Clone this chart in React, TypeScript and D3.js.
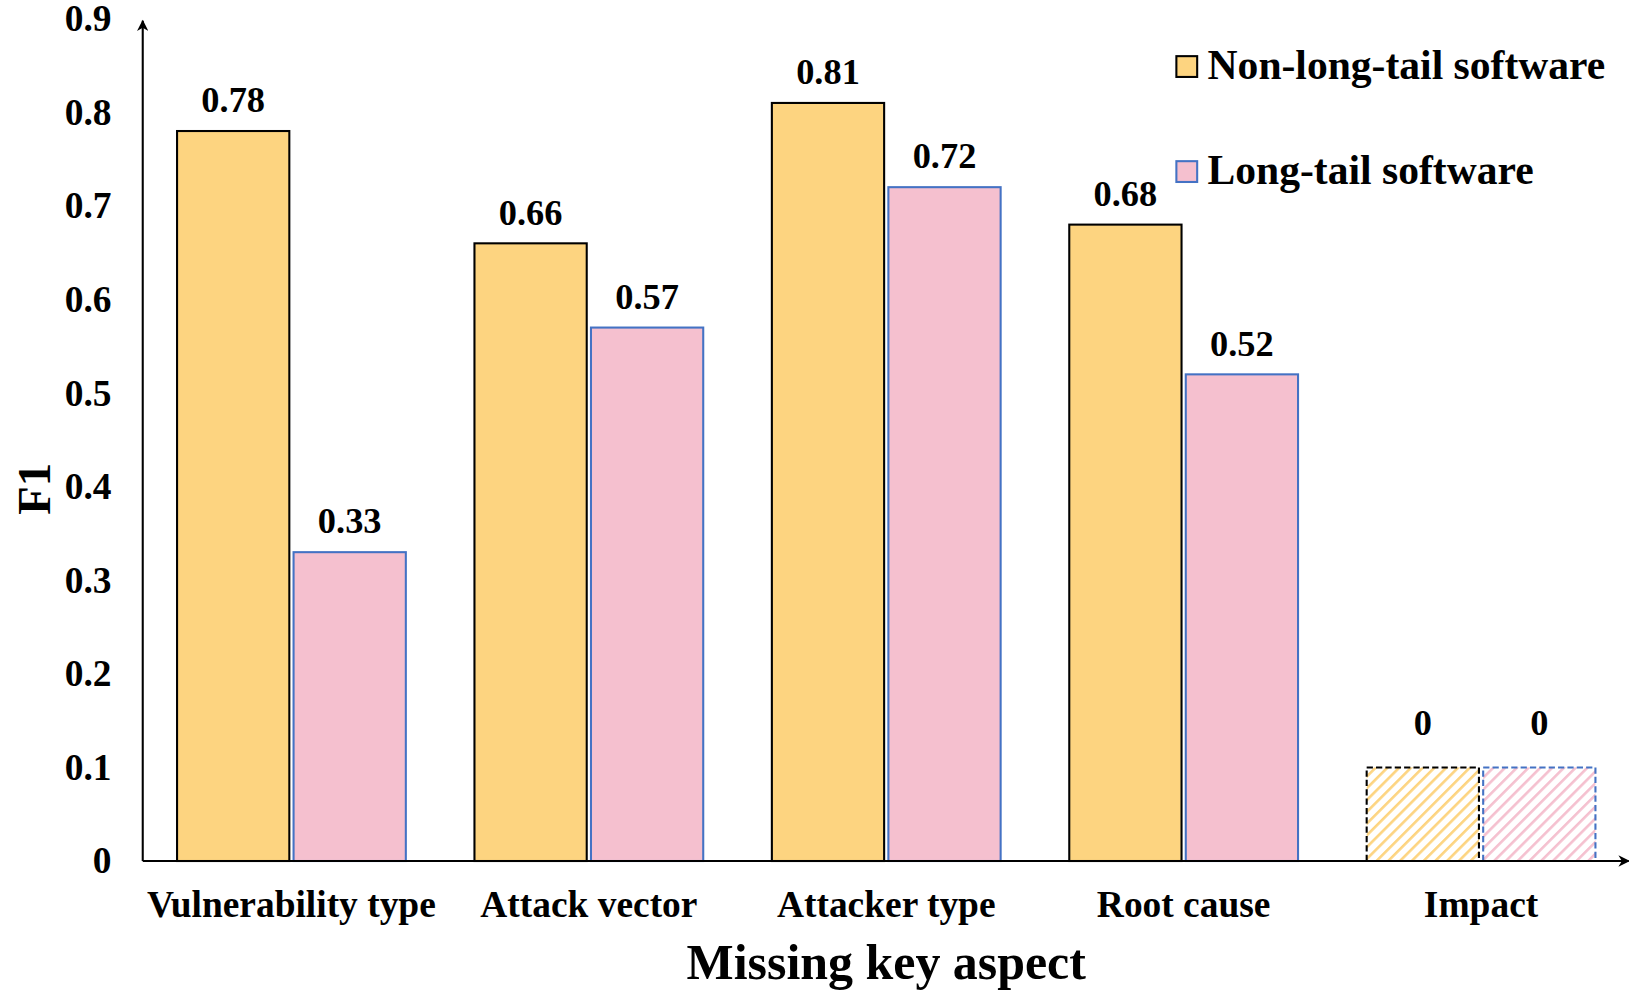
import * as d3 from "d3";

const categories = ["Vulnerability type", "Attack vector", "Attacker type", "Root cause", "Impact"];
const seriesNames = ["Non-long-tail software", "Long-tail software"];
const nonLongTail = [0.78, 0.66, 0.81, 0.68, 0];
const longTail = [0.33, 0.57, 0.72, 0.52, 0];
const yTicks = [0, 0.1, 0.2, 0.3, 0.4, 0.5, 0.6, 0.7, 0.8, 0.9];

const fills = ["#FDD480", "#F5C0CF"];
const strokes = ["#000000", "#4472C4"];
const font = "'Liberation Serif', 'Times New Roman', serif";
// zero values are drawn as a hatched placeholder box
const placeholder = 0.1;

export default function App() {
  const width = 1629;
  const height = 991;
  // drawing units
  const vw = 1566;
  const vh = 953;
  const x0 = 137;
  const y0 = 828;

  const y = d3.scaleLinear([0, 0.9], [y0, 18]);
  const x = d3.scaleBand(categories, [x0, x0 + 5 * 286]);
  const sub = d3.scaleBand([0, 1], [-110, 110]).paddingInner(8 / 220);

  const series = [nonLongTail, longTail];

  return (
    <svg
      width={width}
      height={height}
      viewBox={`0 0 ${vw} ${vh}`}
      style={{ position: "absolute", left: 0, top: 0, background: "#fff" }}
      fontFamily={font}
      fontWeight="bold"
    >
      <defs>
        {fills.map((c, i) => (
          <pattern
            key={i}
            id={`hatch${i}`}
            patternUnits="userSpaceOnUse"
            width={8}
            height={8}
            patternTransform="rotate(45)"
          >
            <rect width={8} height={8} fill="#fff" />
            <line x1={0} y1={0} x2={0} y2={8} stroke={c} strokeWidth={5} />
          </pattern>
        ))}
        <marker id="arrow" viewBox="0 0 10 10" refX={9} refY={5} markerWidth={16} markerHeight={11} markerUnits="userSpaceOnUse" orient="auto">
          <path d="M0,0 L10,5 L0,10 L3,5 Z" fill="#000" />
        </marker>
      </defs>

      {categories.map((c, ci) => {
        const cx = x(c)! + x.bandwidth() / 2;
        return series.map((s, si) => {
          const v = s[ci];
          const zero = v === 0;
          const shown = zero ? placeholder : v;
          const bx = cx + sub(si)!;
          const top = y(shown);
          return (
            <g key={`${ci}-${si}`}>
              <rect
                x={bx}
                y={top}
                width={sub.bandwidth()}
                height={y0 - top}
                fill={zero ? `url(#hatch${si})` : fills[si]}
                stroke={strokes[si]}
                strokeWidth={2}
                strokeDasharray={zero ? "6,3" : undefined}
              />
              <text
                x={bx + sub.bandwidth() / 2}
                y={top - (zero ? 31 : 18)}
                textAnchor="middle"
                fontSize={35}
              >
                {zero ? "0" : v.toFixed(2)}
              </text>
            </g>
          );
        });
      })}

      {/* axes */}
      <line x1={x0} y1={y0} x2={x0} y2={20} stroke="#000" strokeWidth={2} markerEnd="url(#arrow)" />
      <line x1={x0} y1={y0} x2={1566} y2={y0} stroke="#000" strokeWidth={2} markerEnd="url(#arrow)" />

      {yTicks.map((t) => (
        <text key={t} x={107} y={y(t) + 12} textAnchor="end" fontSize={36}>
          {t === 0 ? "0" : t.toFixed(1)}
        </text>
      ))}

      {categories.map((c) => (
        <text key={c} x={x(c)! + x.bandwidth() / 2} y={882} textAnchor="middle" fontSize={36}>
          {c}
        </text>
      ))}

      <text x={852} y={941} textAnchor="middle" fontSize={48}>
        Missing key aspect
      </text>
      <text transform="translate(48,470) rotate(-90)" textAnchor="middle" fontSize={45}>
        F1
      </text>

      {seriesNames.map((n, i) => (
        <g key={n} transform={`translate(1131,${54 + i * 101})`}>
          <rect width={20} height={20} fill={fills[i]} stroke={strokes[i]} strokeWidth={2} />
          <text x={30} y={22} fontSize={40}>
            {n}
          </text>
        </g>
      ))}
    </svg>
  );
}
